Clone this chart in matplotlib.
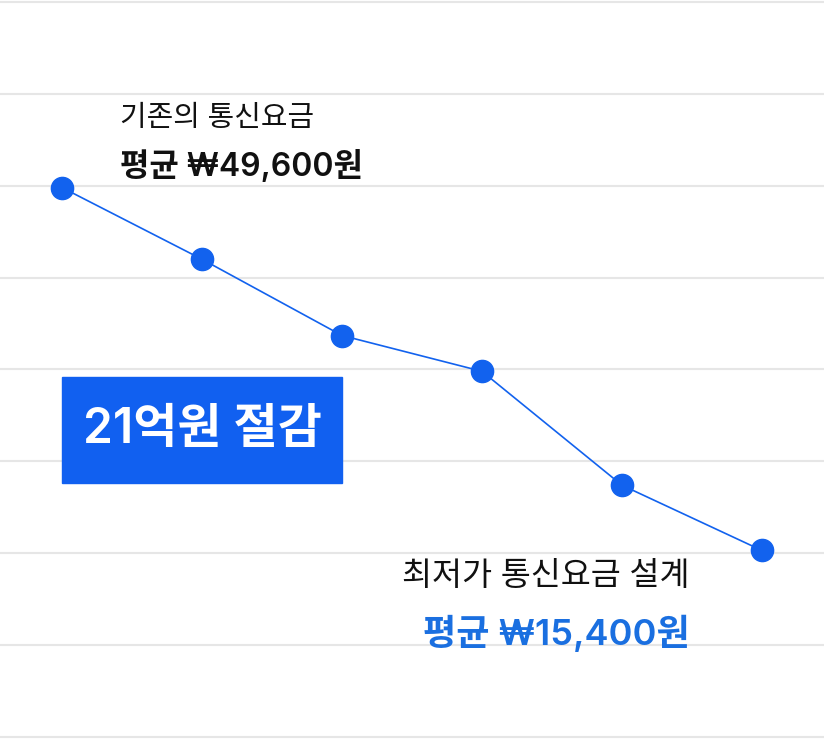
import matplotlib.pyplot as plt
from matplotlib.patches import Rectangle

plt.rcParams['font.family'] = ['Inter', 'Noto Sans CJK KR', 'DejaVu Sans']

# monthly fee trend (relative level)
steps = [0, 1, 2, 3, 4, 5]
fee_level = [59.8, 52.0, 43.7, 39.8, 27.4, 20.3]
grid_levels = [0, 10, 20, 30, 40, 50, 60, 70, 80]

old_label = '기존의 통신요금'
old_value = '평균 ₩49,600원'
new_label = '최저가 통신요금 설계'
new_value = '평균 ₩15,400원'
saving = '21억원 절감'

blue = '#1262ee'

fig = plt.figure(figsize=(8.24, 7.39), dpi=100)
ax = fig.add_axes([0, 0, 1, 1])
ax.set_xlim(-62 / 140, (824 - 62) / 140)
ax.set_ylim(-2 / 9.1875, 80 + 2 / 9.1875)
ax.axis('off')

for g in grid_levels:
    ax.axhline(g, color='#e6e6e6', lw=1.5, zorder=0)

ax.plot(steps, fee_level, color=blue, lw=1.2, marker='o', markersize=16,
        markerfacecolor=blue, markeredgecolor=blue, zorder=3)

# saving box
ax.add_patch(Rectangle((0, 27.65), 2, 11.5, color='#1160f0', zorder=4))
ax.text(1, 33.4, saving, color='white', fontsize=34.5, fontweight='semibold',
        ha='center', va='center', zorder=5)

ax.text(120 / 824, 1 - 118 / 739, old_label, transform=ax.transAxes,
        fontsize=20.8, fontweight='medium', color='#111111', ha='left', va='center')
ax.text(120 / 824, 1 - 167 / 739, old_value, transform=ax.transAxes,
        fontsize=23, fontweight='semibold', color='#111111', ha='left', va='center')

ax.text(690 / 824, 1 - 577 / 739, new_label, transform=ax.transAxes,
        fontsize=23.5, fontweight='medium', color='#111111', ha='right', va='center')
ax.text(690 / 824, 1 - 633 / 739, new_value, transform=ax.transAxes,
        fontsize=26, fontweight='semibold', color='#1a6fe0', ha='right', va='center')

fig.savefig('out.png', dpi=100)
